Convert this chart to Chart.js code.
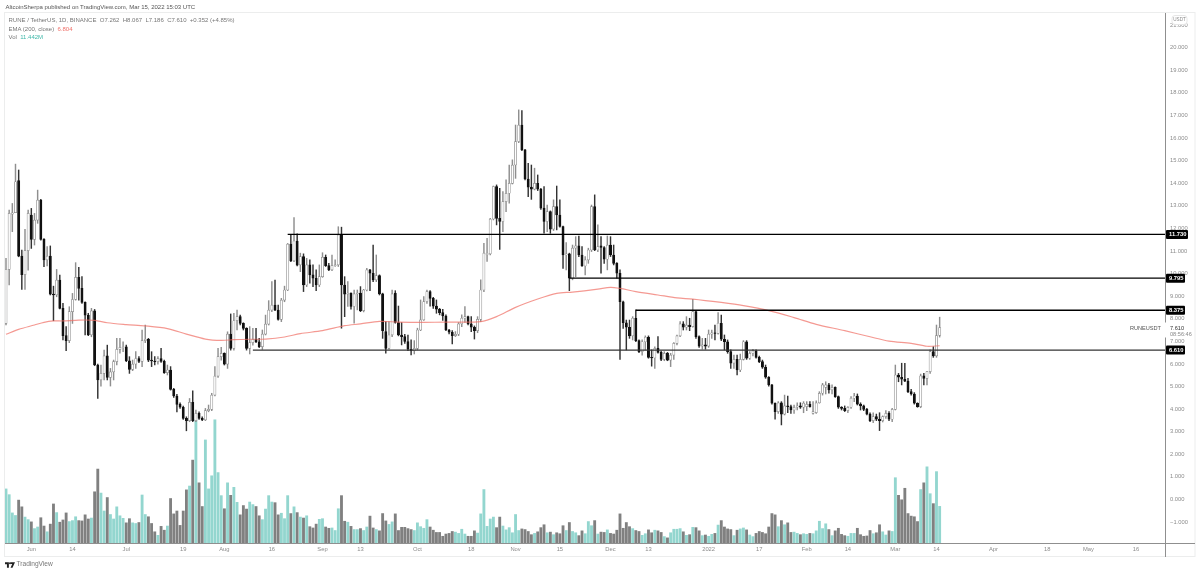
<!DOCTYPE html>
<html><head><meta charset="utf-8">
<script src="https://cdn.jsdelivr.net/npm/chart.js@4"></script>
<style>
html,body{margin:0;padding:0;background:#fff;width:1200px;height:573px;overflow:hidden}
#wrap{position:relative;width:1200px;height:573px}
canvas{position:absolute;left:0;top:0}
.t{position:absolute;font-family:"Liberation Sans","Open Sans",sans-serif;white-space:pre;line-height:1}
</style></head><body>
<div id="wrap">
<canvas id="c" width="1200" height="573"></canvas>
<div class="t" style="left:5.5px;top:3.5px;font-size:6px;color:#555">AltcoinSherpa published on TradingView.com, Mar 15, 2022 15:03 UTC</div>
<div class="t" style="left:8.5px;top:16.5px;font-size:6px;color:#777">RUNE / TetherUS, 1D, BINANCE  O7.262  H8.067  L7.186  C7.610  +0.352 (+4.85%)</div>
<div class="t" style="left:8.5px;top:25.5px;font-size:6px;color:#777">EMA (200, close)  <span style="color:#f0716a">6.804</span></div>
<div class="t" style="left:8.5px;top:34px;font-size:6px;color:#777">Vol  <span style="color:#3fb8a9">11.442M</span></div>
<svg style="position:absolute;left:5px;top:561.5px" width="10" height="6" viewBox="0 0 36 20"><path fill="#222" d="M0 0h14v20H7V7H0zM20 0h16l-9 20h-7l6-14h-6z"/><circle cx="18" cy="3.5" r="3.5" fill="#222"/></svg>
<div class="t" style="left:16.5px;top:561px;font-size:6.6px;color:#777">TradingView</div>
</div>
<script>
const opens=[7.79,10.18,12.63,12.69,14.11,10.77,9.95,11.01,12.59,11.51,12.36,13.25,11.51,10.60,10.77,9.09,9.05,9.71,8.46,7.25,
7.03,8.31,8.85,9.83,9.34,8.72,8.16,7.28,8.35,5.95,5.29,5.58,6.36,5.40,5.65,6.10,6.64,6.73,6.76,6.14,
5.76,5.99,6.24,6.11,7.03,7.09,6.17,6.13,6.10,6.23,6.11,5.61,5.73,4.87,4.58,4.21,4.08,3.59,3.49,4.30,
3.49,3.81,3.59,3.52,3.93,3.99,4.62,5.46,6.32,6.47,5.99,7.32,6.69,7.91,8.09,7.79,7.57,6.69,6.94,7.09,
6.98,6.76,7.32,7.76,8.38,8.60,8.38,7.97,8.82,9.27,11.30,10.56,11.44,10.38,10.75,9.49,10.38,9.94,9.79,9.49,
9.86,10.72,10.35,10.16,10.35,10.38,11.71,9.49,9.08,9.13,8.54,9.10,9.13,8.36,9.27,10.16,10.01,9.72,9.91,9.10,
7.43,6.69,7.28,9.13,7.83,7.28,7.21,6.99,6.65,6.59,6.69,7.50,7.95,8.76,9.20,8.90,8.56,8.42,8.27,8.12,
7.50,7.40,7.25,7.31,7.77,8.02,8.09,7.77,7.62,7.47,7.97,9.27,10.82,10.87,12.41,13.85,12.44,12.30,13.18,13.55,
13.99,14.80,15.84,16.57,15.47,14.18,13.82,13.73,13.99,13.73,12.89,12.30,12.74,11.96,12.96,12.59,12.08,10.82,10.87,9.79,
11.12,11.22,10.82,10.33,10.60,11.04,12.96,11.04,11.23,11.15,10.63,11.26,10.82,10.45,10.01,8.75,7.82,7.62,7.24,8.02,
7.03,6.54,6.98,7.18,6.29,6.26,6.69,6.51,6.20,6.47,6.17,6.39,6.91,7.24,7.77,7.62,7.72,7.65,8.31,7.21,
6.79,6.84,6.79,7.32,7.38,7.35,7.80,7.09,6.98,6.54,6.03,6.20,5.73,6.20,6.98,6.25,6.47,6.58,6.29,6.10,
5.85,5.41,5.07,4.26,3.89,4.28,3.78,4.14,4.11,3.96,4.08,4.14,4.08,4.11,4.21,3.81,3.84,4.28,4.70,4.96,
5.07,4.85,4.96,4.55,4.08,4.03,3.93,4.08,4.48,4.58,4.22,4.14,3.99,3.78,3.49,3.67,3.55,3.49,3.67,3.81,
3.55,3.99,5.51,5.41,5.32,5.24,4.77,4.67,4.26,4.11,5.47,5.36,5.66,6.54,6.35,7.262];
const highs=[10.67,12.81,13.10,14.84,14.58,11.04,11.95,12.81,12.88,12.66,13.69,13.28,11.54,11.19,11.22,9.44,10.18,9.93,8.68,7.65,
8.53,9.12,10.48,10.27,9.86,8.75,8.24,8.46,8.41,5.99,5.95,6.61,6.83,5.80,6.17,7.13,7.13,6.98,6.83,6.32,
6.17,6.54,6.32,7.50,7.72,7.13,6.54,6.32,6.32,6.69,6.17,5.95,5.88,4.92,4.65,4.28,4.13,3.66,4.47,4.81,
3.96,3.88,3.66,4.03,4.18,4.70,5.88,6.69,6.73,6.49,7.42,8.21,8.24,8.38,8.16,7.82,7.60,7.65,7.57,7.57,
7.13,7.50,8.16,8.80,9.64,9.71,8.60,8.90,9.44,11.33,11.70,12.48,11.75,10.90,10.87,10.67,10.60,10.38,10.16,10.38,
10.92,10.82,10.45,10.82,10.60,12.07,12.05,9.86,9.64,9.15,9.27,9.27,9.42,9.30,10.23,10.19,11.26,10.82,9.94,9.13,
7.87,7.87,9.27,9.24,8.56,7.83,7.31,7.28,7.06,7.03,7.58,8.83,8.98,9.27,9.24,8.95,8.83,8.46,8.42,8.17,
7.53,7.47,7.43,7.83,8.17,8.54,8.12,8.09,7.68,8.09,9.72,11.34,11.56,12.44,13.87,13.92,13.77,13.62,14.14,14.80,
15.03,16.57,17.24,17.21,15.50,14.88,14.80,14.66,14.36,13.77,13.85,13.03,12.77,13.26,13.87,13.26,12.10,11.37,10.90,11.26,
11.63,11.66,11.19,10.75,11.12,13.03,13.48,12.15,11.63,11.19,11.66,11.63,11.26,10.48,10.16,8.78,7.94,7.94,8.09,8.39,
7.06,7.06,7.24,7.24,6.62,6.76,7.21,6.57,6.54,6.51,6.47,6.94,7.28,7.87,7.87,8.09,8.02,8.86,8.36,7.24,
7.13,7.13,7.50,7.50,7.72,8.27,8.16,7.28,7.06,6.62,6.39,6.39,6.44,7.03,7.03,6.54,6.65,6.62,6.35,6.17,
5.95,5.44,5.10,4.28,4.33,4.33,4.62,4.58,4.18,4.18,4.28,4.28,4.33,4.33,4.33,4.33,4.37,4.77,5.14,5.21,
5.14,5.07,4.99,4.58,4.11,4.14,4.11,4.55,4.70,4.67,4.28,4.18,4.03,3.84,3.84,3.78,3.84,3.70,3.93,3.89,
4.03,5.95,5.58,6.03,6.03,5.36,4.87,4.73,4.28,5.55,5.58,5.66,6.62,6.76,7.72,8.067];
const lows=[7.72,9.49,11.85,12.73,10.74,9.30,9.30,10.15,11.11,11.26,12.22,11.48,10.30,10.33,9.05,7.91,8.97,8.43,7.06,6.58,
6.94,7.79,8.82,8.82,8.68,7.28,7.25,7.20,5.92,4.47,5.02,5.29,5.29,5.02,5.29,5.95,6.47,6.54,6.10,5.58,
5.70,5.80,6.05,5.88,6.94,6.10,5.88,5.95,5.99,6.07,5.58,5.51,4.84,4.52,3.88,4.03,3.54,3.04,3.44,3.44,
3.44,3.54,3.49,3.49,3.88,3.93,4.58,5.40,6.17,5.95,5.80,6.61,6.61,7.50,7.72,7.50,6.61,6.44,6.83,6.94,
6.72,6.64,7.28,7.72,8.31,8.35,7.94,7.87,8.75,9.24,10.52,10.52,10.33,10.08,9.20,9.42,9.57,9.42,9.24,9.42,
9.83,10.31,10.13,10.13,10.31,10.31,7.58,8.09,8.54,8.42,7.80,8.39,8.31,8.30,9.23,9.24,9.64,9.64,9.05,7.13,
6.47,6.65,7.21,7.80,7.24,6.84,6.91,6.59,6.40,6.44,6.62,7.47,7.92,8.68,8.56,8.46,8.24,8.17,7.92,7.47,
7.33,6.88,7.21,7.25,7.65,7.83,7.72,7.43,7.10,7.38,7.87,9.20,10.53,10.82,12.37,12.15,11.07,11.85,12.74,13.11,
13.96,14.21,15.79,15.44,14.14,13.40,13.28,13.70,13.67,12.84,11.78,11.85,11.78,11.90,11.93,12.05,10.23,10.16,9.24,9.72,
9.86,10.75,10.31,9.94,10.45,10.97,11.01,10.97,10.01,10.45,10.16,10.75,10.38,9.79,6.20,7.57,6.62,7.13,7.06,6.98,
6.50,6.39,6.62,6.25,5.90,5.80,6.47,6.14,6.14,6.14,5.88,6.20,6.84,7.21,7.50,7.50,7.47,7.62,7.13,6.73,
6.65,6.65,6.73,7.13,7.06,7.32,7.03,6.62,6.47,5.80,5.80,5.51,5.66,6.17,6.20,6.20,6.35,6.25,6.05,5.80,
5.36,5.02,4.22,3.55,3.81,3.30,3.74,3.84,3.81,3.81,3.96,4.03,3.84,3.93,4.08,3.78,3.81,4.26,4.62,4.67,
4.70,4.67,4.52,4.03,3.96,3.89,3.84,4.03,4.33,4.18,3.96,3.93,3.74,3.44,3.40,3.49,3.05,3.43,3.59,3.49,
3.44,3.96,5.21,5.07,5.21,4.73,4.62,4.22,4.08,4.06,5.07,5.07,5.58,6.29,6.29,7.186];
const closes=[10.18,12.66,12.69,14.06,10.77,9.95,11.01,12.66,11.51,12.36,13.25,11.51,10.60,10.77,9.09,9.05,9.71,8.46,7.25,7.03,
8.31,8.85,9.83,9.34,8.72,8.16,7.28,8.35,5.95,5.29,5.58,6.36,5.40,5.65,6.10,6.64,6.73,6.76,6.14,5.76,
5.99,6.24,6.11,7.03,7.09,6.17,6.13,6.10,6.23,6.11,5.61,5.73,4.87,4.58,4.21,4.08,3.59,3.49,4.30,3.49,
3.81,3.59,3.52,3.93,3.99,4.62,5.46,6.32,6.47,5.99,7.32,6.69,7.91,8.09,7.79,7.57,6.69,6.94,7.09,6.98,
6.76,7.32,7.76,8.38,8.60,8.38,7.97,8.82,9.27,11.30,10.56,11.44,10.37,10.75,9.49,10.38,9.94,9.79,9.49,9.86,
10.72,10.35,10.16,10.35,10.38,11.71,9.49,9.08,9.13,8.54,9.10,9.13,8.36,9.27,10.16,10.01,9.72,9.91,9.10,7.47,
6.69,7.28,9.10,7.83,7.28,7.21,6.99,6.65,6.59,6.69,7.50,7.95,8.76,9.20,8.90,8.56,8.42,8.27,8.12,7.50,
7.40,7.25,7.31,7.77,8.02,8.09,7.77,7.62,7.47,7.97,9.27,10.90,10.90,12.41,13.85,12.44,12.30,13.18,13.55,13.99,
14.80,15.84,16.57,15.47,14.18,13.82,13.73,13.99,13.73,12.89,12.30,12.74,11.96,12.96,12.59,12.08,10.82,10.87,9.79,11.12,
11.22,10.82,10.33,10.60,11.04,12.96,11.04,11.19,11.15,10.63,11.26,10.82,10.45,10.01,8.75,7.82,7.62,7.24,8.02,7.03,
6.54,6.98,7.18,6.29,6.26,6.69,6.51,6.20,6.47,6.17,6.39,6.91,7.24,7.77,7.62,7.72,7.65,8.31,7.21,6.79,
6.84,6.79,7.32,7.38,7.35,7.80,7.09,6.98,6.54,6.03,6.20,5.73,6.20,6.98,6.25,6.47,6.58,6.29,6.10,5.85,
5.41,5.07,4.26,3.89,4.28,3.78,4.14,4.11,3.96,4.08,4.14,4.08,4.26,4.21,4.11,3.89,4.28,4.70,5.07,5.07,
4.85,4.96,4.55,4.08,4.03,3.93,4.08,4.48,4.58,4.22,4.14,3.99,3.78,3.49,3.67,3.55,3.49,3.67,3.81,3.55,
3.99,5.51,5.41,5.32,5.24,4.77,4.67,4.26,4.11,5.47,5.36,5.66,6.54,6.35,7.25,7.610];
const volumes=[16.9,15.1,9.4,8.6,13.4,11.3,8.1,7.3,6.6,4.5,5.0,7.9,5.3,3.5,5.9,12.2,9.5,6.5,7.2,9.4,
6.7,7.0,8.2,7.0,6.9,8.8,7.5,7.8,16.0,23.1,15.6,10.0,14.2,8.9,7.5,11.3,8.5,7.7,6.3,7.6,
6.3,6.1,6.4,15.0,8.9,8.2,6.1,3.5,2.4,5.2,4.0,5.3,13.9,9.1,10.0,5.5,10.0,16.6,17.8,25.9,
38.5,18.8,11.4,32.2,16.9,21.0,38.5,22.0,14.8,10.7,18.8,14.9,17.4,12.7,8.8,11.7,10.6,12.8,12.0,11.4,
8.5,7.3,10.6,14.8,12.8,12.6,8.8,9.3,7.6,14.8,9.2,11.3,9.5,8.1,7.8,8.5,5.1,4.7,5.9,7.4,
7.6,5.0,4.6,4.7,3.9,10.7,14.8,6.8,6.5,5.2,4.2,4.2,4.5,3.9,5.0,8.4,4.7,4.2,3.8,9.2,
6.9,5.8,6.6,9.1,3.9,4.9,4.9,4.5,4.2,3.9,6.3,5.1,4.6,7.3,5.0,4.0,3.3,3.3,2.1,2.8,
3.0,3.6,3.4,3.0,4.3,2.8,2.1,2.1,3.8,3.1,9.1,16.7,5.2,7.5,8.1,4.8,8.1,5.3,4.1,4.8,
3.2,8.9,3.9,4.4,4.2,3.6,2.6,3.0,3.5,4.8,5.7,3.2,3.4,2.6,3.2,2.9,5.4,3.9,6.4,3.6,
3.2,2.3,3.8,2.9,6.7,5.4,7.0,2.8,3.4,3.3,4.1,3.0,2.8,4.0,9.1,4.6,6.4,5.1,4.5,3.9,
3.6,2.4,2.9,4.1,3.2,4.0,3.8,3.3,2.0,1.6,3.2,4.3,4.3,4.5,3.5,2.4,2.6,4.9,4.8,3.8,
2.3,2.5,2.1,2.7,3.0,5.6,7.0,5.0,4.4,4.2,2.3,4.0,4.4,4.7,4.1,2.5,2.0,3.0,3.6,3.3,
2.9,5.0,9.2,8.8,5.1,7.0,5.7,6.3,3.3,3.4,3.0,2.6,2.9,2.7,3.0,2.9,3.8,6.8,4.5,6.0,
4.2,2.3,3.8,4.6,2.7,2.3,2.1,3.0,3.0,4.6,2.6,2.1,2.2,3.9,2.9,3.2,5.7,3.5,2.5,3.8,
3.6,20.4,14.9,13.5,17.1,9.2,8.4,8.2,6.7,16.7,18.8,23.8,15.4,12.3,22.3,11.442];
const emaDays=[0,4,9,12,15,18,23,28,32,38,44,51,57,63,68,72,77,82,88,93,100,107,112,118,124,132,139,150,155,161,168,174,179,187,191,194,199,206,212,217,226,233,241,249,256,265,273,279,286,291,295];
const emaValues=[7.31,7.53,7.72,7.84,7.90,7.90,7.94,7.93,7.82,7.74,7.68,7.56,7.32,7.10,7.04,7.07,7.09,7.10,7.19,7.34,7.47,7.69,7.77,7.88,7.85,7.84,7.85,7.87,8.09,8.50,8.87,9.12,9.18,9.31,9.39,9.34,9.20,9.05,8.92,8.87,8.72,8.58,8.36,8.05,7.75,7.47,7.20,7.01,6.91,6.78,6.804];
const levelPrices=[11.730,9.795,8.375,6.610];
const levelLabels=["11.730","9.795","8.375","6.610"];
const levelStartDays=[89,178,199,78];
const tickDays=[8,21,38,56,69,84,100,112,130,147,161,175,191,203,222,238,253,266,281,294,312,329,342,357];
const tickLabels=["Jun","14","Jul","19","Aug","16","Sep","13","Oct","18","Nov","15","Dec","13","2022","17","Feb","14","Mar","14","Apr","18","May","16"];

const UP='#8f8f8f',DOWN='#111',VUP='#93d6cf',VDN='#808080';
const isUp=i=>closes[i]>=opens[i];
const X_MIN=-0.316,X_MAX=366.2;
const lineDs=levelPrices.map((p,k)=>({type:'line',data:[{x:levelStartDays[k],y:p},{x:X_MAX,y:p}],borderColor:k===3?'#333':'#000',borderWidth:k===0?1.1:1.4,pointRadius:0,order:1,yAxisID:'y'}));

const overlay={id:'overlay',
 beforeDraw(ch){const c=ch.ctx,a=ch.chartArea;c.save();c.fillStyle='#fff';c.fillRect(0,0,1200,573);
  c.strokeStyle='#eceded';c.lineWidth=1;c.strokeRect(a.left-0.5,a.top-0.5,1195-a.left+0.5,557-a.top);c.restore();},
 afterDraw(ch){const c=ch.ctx,a=ch.chartArea,y=ch.scales.y;c.save();
  c.strokeStyle='#8f8f8f';c.lineWidth=1;c.beginPath();
  c.moveTo(a.left,a.bottom+.5);c.lineTo(1195,a.bottom+.5);
  c.moveTo(a.right+.5,a.top);c.lineTo(a.right+.5,557);c.stroke();
  const f='"Liberation Sans","Open Sans",sans-serif';
  c.fillStyle='#fff';c.fillRect(a.right-2,322.5,30,15);
  c.textBaseline='middle';c.font='5.6px '+f;c.fillStyle='#555';c.textAlign='right';c.fillText('RUNEUSDT',1161,328);
  c.textAlign='left';c.fillStyle='#333';c.fillText('7.610',1170,328);c.fillStyle='#888';c.fillText('08:56:46',1170,334.5);
  levelPrices.forEach((p,k)=>{const py=y.getPixelForValue(p),w=k===0?22:19;
   c.fillStyle='#000';c.beginPath();c.roundRect(a.right+1,py-4.5,w,9,1);c.fill();
   c.fillStyle='#fff';c.font='bold 5.8px '+f;c.textAlign='left';c.fillText(levelLabels[k],a.right+4,py+.3);});
  c.fillStyle='#fff';c.strokeStyle='#e6e6e6';c.beginPath();c.roundRect(1172,15.5,15,9,3);c.fill();c.stroke();
  c.fillStyle='#888';c.font='4.6px '+f;c.textAlign='center';c.fillText('USDT',1179.5,20);
  c.restore();}};

new Chart(document.getElementById('c'),{type:'bar',
 data:{datasets:[
  {label:'Vol',yAxisID:'vol',order:10,barThickness:2.2,grouped:false,data:volumes.map((v,i)=>({x:i,y:v})),backgroundColor:volumes.map((v,i)=>isUp(i)?VUP:VDN)},
  {label:'Wick',yAxisID:'y',order:5,barThickness:0.8,grouped:false,data:highs.map((h,i)=>({x:i,y:[lows[i],h]})),backgroundColor:highs.map((h,i)=>isUp(i)?UP:'#333')},
  {label:'Body',yAxisID:'y',order:4,barThickness:2.3,grouped:false,data:opens.map((o,i)=>({x:i,y:[o,closes[i]]})),
   backgroundColor:opens.map((o,i)=>isUp(i)?'#fff':DOWN),borderColor:opens.map((o,i)=>isUp(i)?UP:DOWN),borderWidth:0.7,borderSkipped:false},
  {type:'line',label:'EMA',yAxisID:'y',order:3,data:emaDays.map((d,i)=>({x:d,y:emaValues[i]})),borderColor:'rgba(240,110,100,.7)',borderWidth:1.2,pointRadius:0,tension:.3},
  ...lineDs
 ]},
 options:{responsive:false,animation:false,devicePixelRatio:1,
  layout:{padding:{left:5,right:0,top:13,bottom:17}},
  plugins:{legend:{display:false},tooltip:{enabled:false}},
  scales:{
   x:{type:'linear',min:X_MIN,max:X_MAX,offset:false,grid:{display:false,drawTicks:false},border:{display:false},
      afterBuildTicks(s){s.ticks=tickDays.map(v=>({value:v}));},
      afterFit(s){s.height=13;},
      ticks:{autoSkip:false,maxRotation:0,padding:3,color:'#8c8c8c',font:{size:5.8,family:'"Liberation Sans","Open Sans",sans-serif'},callback(v){return tickLabels[tickDays.indexOf(v)];}}},
   y:{position:'right',min:-1.925,max:21.527,grid:{display:false,drawTicks:false},border:{display:false},
      afterFit(s){s.width=35;},
      ticks:{stepSize:1,includeBounds:false,padding:5,color:'#8c8c8c',font:{size:5.8,family:'"Liberation Sans","Open Sans",sans-serif'},callback(v){return (v<0?'\u2212':'')+Math.abs(v).toFixed(3);}}},
   vol:{display:false,min:0,max:165.6}
  }},
 plugins:[overlay]});
</script>
</body></html>
